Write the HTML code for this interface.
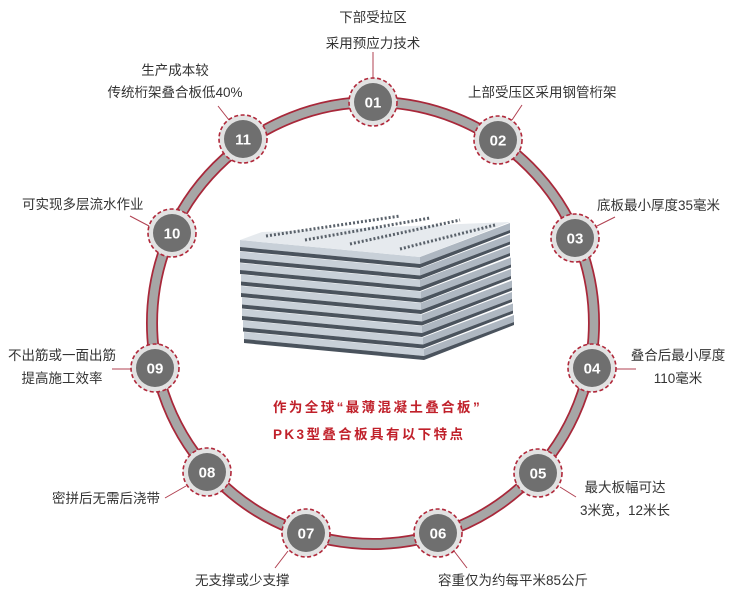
<!DOCTYPE html>
<html><head><meta charset="utf-8"><style>
html,body{margin:0;padding:0;background:#fff;}
svg{display:block;}
text{font-family:"Liberation Sans","Noto Sans CJK SC",sans-serif;}
.l{font-size:13.5px;fill:#333;}
.n{font-size:15px;font-weight:bold;fill:#fff;}
.c{font-size:13.5px;font-weight:bold;fill:#c0202a;letter-spacing:2.4px;}
.ld{stroke:#b04050;stroke-width:1;}
</style></head><body>
<svg width="750" height="600" viewBox="0 0 750 600" xmlns="http://www.w3.org/2000/svg">
<defs>
<g id="layer">
  <polygon points="240,240 420,257 420,264 240,247" fill="#c8d0d8"/>
  <polygon points="420,257 510,223 510,230 420,264" fill="#aeb7c1"/>
  <polygon points="240,247 420,264 510,230 510,233 420,268 240,251" fill="#4a535d"/>
</g>
<g id="node">
  <circle r="24" fill="#e2e2e2" stroke="#b0283a" stroke-width="1.6" stroke-dasharray="4,2.5"/>
  <circle r="19" fill="#6f6f6f"/>
</g>
</defs>
<circle cx="373" cy="323" r="221" fill="none" stroke="#a8283a" stroke-width="12"/>
<circle cx="373" cy="323" r="221" fill="none" stroke="#a6a6a6" stroke-width="8.5"/>

<g>
  <use href="#layer" transform="translate(4,92)"/>
  <use href="#layer" transform="translate(3,80.5)"/>
  <use href="#layer" transform="translate(2,69)"/>
  <use href="#layer" transform="translate(2,57.5)"/>
  <use href="#layer" transform="translate(1,46)"/>
  <use href="#layer" transform="translate(1,34.5)"/>
  <use href="#layer" transform="translate(0,23)"/>
  <use href="#layer" transform="translate(0,11.5)"/>
  <use href="#layer" transform="translate(0,0)"/>
  <polygon points="240,240 262,232 510,222 420,257" fill="#e6eaee"/>
  <g stroke="#59616a" stroke-width="3" stroke-dasharray="2,2">
    <line x1="266" y1="236" x2="400" y2="216"/>
    <line x1="305" y1="240" x2="430" y2="218"/>
    <line x1="350" y1="244" x2="460" y2="220"/>
    <line x1="400" y1="249" x2="495" y2="225"/>
  </g>
</g>

<text class="c" x="273" y="412">作为全球“最薄混凝土叠合板”</text>
<text class="c" x="273" y="439">PK3型叠合板具有以下特点</text>

<g class="ld">
  <line x1="373" y1="52" x2="373" y2="78"/>
  <line x1="218" y1="106" x2="229" y2="120"/>
  <line x1="522" y1="105" x2="512" y2="120"/>
  <line x1="615" y1="217" x2="597" y2="226"/>
  <line x1="130" y1="216" x2="149" y2="226"/>
  <line x1="112" y1="369" x2="131" y2="369"/>
  <line x1="616" y1="369" x2="636" y2="369"/>
  <line x1="560" y1="487" x2="576" y2="497"/>
  <line x1="165" y1="498" x2="186" y2="486"/>
  <line x1="288" y1="551" x2="275" y2="568"/>
  <line x1="454" y1="551" x2="467" y2="568"/>
</g>

<use href="#node" x="373" y="102"/><text class="n" x="373" y="107.5" text-anchor="middle">01</text>
<use href="#node" x="498" y="140"/><text class="n" x="498" y="145.5" text-anchor="middle">02</text>
<use href="#node" x="575" y="238"/><text class="n" x="575" y="243.5" text-anchor="middle">03</text>
<use href="#node" x="592" y="368"/><text class="n" x="592" y="373.5" text-anchor="middle">04</text>
<use href="#node" x="538" y="473"/><text class="n" x="538" y="478.5" text-anchor="middle">05</text>
<use href="#node" x="438" y="533"/><text class="n" x="438" y="538.5" text-anchor="middle">06</text>
<use href="#node" x="306" y="533"/><text class="n" x="306" y="538.5" text-anchor="middle">07</text>
<use href="#node" x="207" y="472"/><text class="n" x="207" y="477.5" text-anchor="middle">08</text>
<use href="#node" x="155" y="368"/><text class="n" x="155" y="373.5" text-anchor="middle">09</text>
<use href="#node" x="172" y="233"/><text class="n" x="172" y="238.5" text-anchor="middle">10</text>
<use href="#node" x="243" y="139"/><text class="n" x="243" y="144.5" text-anchor="middle">11</text>

<text class="l" x="373" y="22" text-anchor="middle">下部受拉区</text>
<text class="l" x="373" y="48" text-anchor="middle">采用预应力技术</text>
<text class="l" x="175" y="75" text-anchor="middle">生产成本较</text>
<text class="l" x="175" y="97" text-anchor="middle">传统桁架叠合板低40%</text>
<text class="l" x="468" y="97">上部受压区采用钢管桁架</text>
<text class="l" x="597" y="210">底板最小厚度35毫米</text>
<text class="l" x="22" y="209">可实现多层流水作业</text>
<text class="l" x="62" y="360" text-anchor="middle">不出筋或一面出筋</text>
<text class="l" x="62" y="383" text-anchor="middle">提高施工效率</text>
<text class="l" x="678" y="360" text-anchor="middle">叠合后最小厚度</text>
<text class="l" x="678" y="383" text-anchor="middle">110毫米</text>
<text class="l" x="625" y="492" text-anchor="middle">最大板幅可达</text>
<text class="l" x="625" y="515" text-anchor="middle">3米宽，12米长</text>
<text class="l" x="52" y="503">密拼后无需后浇带</text>
<text class="l" x="195" y="585">无支撑或少支撑</text>
<text class="l" x="438" y="585">容重仅为约每平米85公斤</text>
</svg>
</body></html>
